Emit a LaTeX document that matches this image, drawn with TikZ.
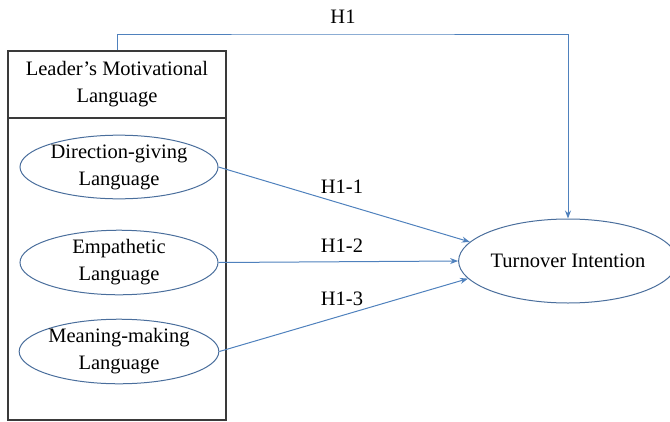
\documentclass[tikz,border=0pt]{standalone}
\usepackage{fontspec}
\setmainfont{Liberation Serif}
\usetikzlibrary{shapes.geometric,arrows.meta}
\definecolor{lnblue}{HTML}{4F81BD}
\definecolor{elblue}{HTML}{4A6E9C}
\definecolor{boxgray}{HTML}{3A3A3A}
\begin{document}
\begin{tikzpicture}[x=1pt,y=-1pt,
  every node/.style={font=\fontsize{20.5}{27}\selectfont, align=center, inner sep=0pt},
  lang/.style={ellipse, draw=elblue, line width=1pt, minimum width=198, minimum height=58},
  blk/.style={draw=boxgray, line width=1.3pt},
  arr/.style={draw=lnblue, line width=1pt, -{Stealth[length=8pt,width=6pt]}},
  lbl/.style={}]
\useasboundingbox (0,0) rectangle (670,421);
\node[blk, minimum width=218, minimum height=369] (box) at (117,235.5) {};
\node[blk, minimum width=218, minimum height=67] (hdr) at (117,84.5) {Leader’s Motivational\\Language};
\node[lang] (dg) at (119,167) {Direction-giving\\Language};
\node[lang] (em) at (119,262.5) {Empathetic\\Language};
\node[lang] (mm) at (119,351.5) {Meaning-making\\Language};
\node[ellipse, draw=elblue, line width=1pt, minimum width=206, minimum height=84] (turn) at (568,261) {Turnover Intention};
\coordinate (top) at (343,34);
\draw[arr] (hdr.north) |- (top) -| (turn.north);
\draw[arr] (dg.east) -- (turn.169);
\draw[arr] (em.east) -- (turn.west);
\draw[arr] (mm.east) -- (turn.190);
\node[lbl] (l1) at (343,17) {H1};
\node[lbl] (l11) at (342,187) {H1-1};
\node[lbl] (l12) at (342,246) {H1-2};
\node[lbl] (l13) at (342,299) {H1-3};
\end{tikzpicture}
\end{document}
